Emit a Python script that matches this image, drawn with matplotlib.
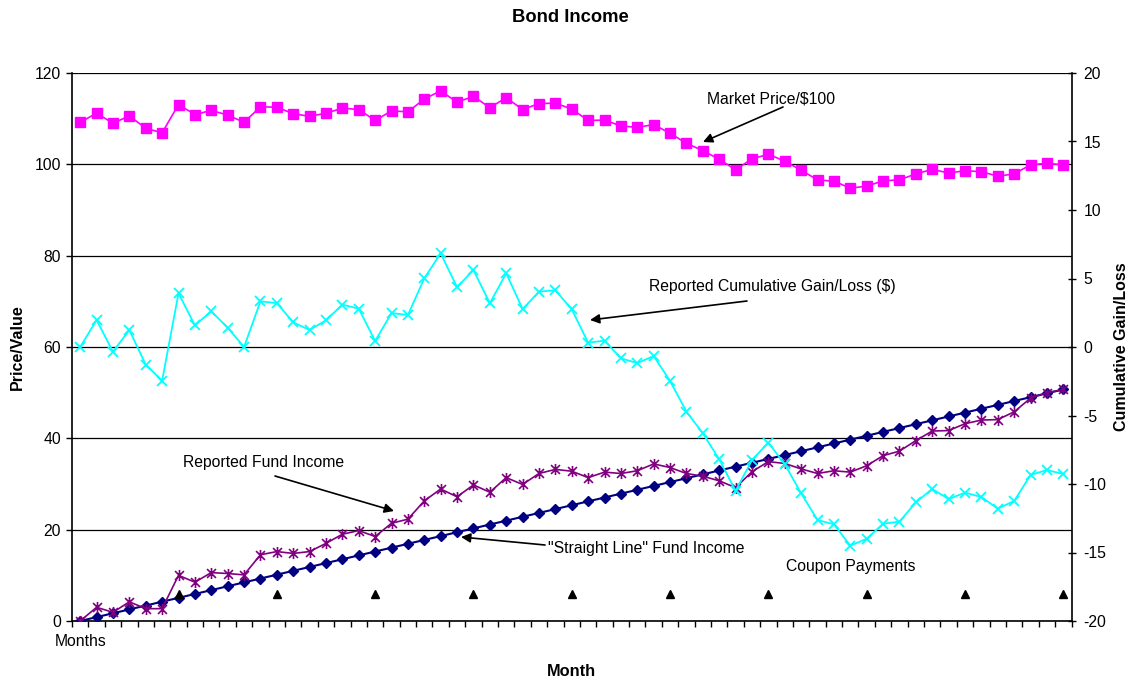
import matplotlib
matplotlib.use("Agg")
import matplotlib.pyplot as plt
import numpy as np
from matplotlib.path import Path

plt.rcParams['font.family'] = ['Liberation Sans', 'DejaVu Sans']
plt.rcParams['axes.unicode_minus'] = False

# ---------------- data ----------------
market_price = [109.2, 111.2, 109.0, 110.6, 107.9, 106.9, 113.1, 110.9, 111.8, 110.8,
                109.2, 112.6, 112.5, 111.1, 110.5, 111.2, 112.3, 112.0, 109.6, 111.7,
                111.5, 114.3, 116.1, 113.6, 114.9, 112.4, 114.6, 112.0, 113.3, 113.4,
                112.1, 109.6, 109.7, 108.4, 108.1, 108.7, 106.8, 104.6, 103.0, 101.1,
                98.8, 101.2, 102.2, 100.7, 98.7, 96.6, 96.3, 94.8, 95.2, 96.4,
                96.6, 97.9, 98.9, 98.1, 98.6, 98.4, 97.4, 97.9, 99.9, 100.2, 99.9]

cumulative_gain = [0.0, 1.97, -0.34, 1.24, -1.29, -2.46, 3.92, 1.58, 2.6, 1.41,
                   0.0, 3.33, 3.21, 1.8, 1.24, 1.95, 3.09, 2.8, 0.44, 2.48,
                   2.33, 5.01, 6.84, 4.36, 5.62, 3.19, 5.38, 2.77, 4.04, 4.14,
                   2.75, 0.32, 0.46, -0.83, -1.17, -0.66, -2.48, -4.72, -6.3, -8.2,
                   -10.5, -8.25, -6.98, -8.56, -10.68, -12.63, -12.94, -14.5, -14.0, -12.9,
                   -12.75, -11.34, -10.36, -11.1, -10.63, -10.95, -11.8, -11.24, -9.34, -8.98, -9.27]

reported_income = [0.0, 3.0, 1.9, 4.2, 2.7, 2.7, 10.0, 8.5, 10.6, 10.4,
                   10.1, 14.5, 15.2, 14.8, 15.2, 17.0, 19.0, 19.8, 18.5, 21.4,
                   22.3, 26.3, 28.9, 27.2, 29.8, 28.2, 31.4, 29.9, 32.3, 33.2,
                   32.8, 31.4, 32.6, 32.3, 32.9, 34.4, 33.6, 32.3, 31.7, 30.7,
                   29.2, 32.7, 34.9, 34.5, 33.3, 32.3, 32.9, 32.6, 34.0, 36.2,
                   37.2, 39.5, 41.6, 41.7, 43.2, 44.0, 44.1, 45.8, 48.8, 50.0, 50.7]

straight_line_income = [0.0, 0.85, 1.69, 2.54, 3.38, 4.23, 5.07, 5.92, 6.76, 7.61,
                        8.45, 9.30, 10.14, 10.99, 11.83, 12.68, 13.52, 14.37, 15.21, 16.06,
                        16.90, 17.75, 18.59, 19.44, 20.28, 21.13, 21.97, 22.82, 23.66, 24.51,
                        25.35, 26.20, 27.04, 27.89, 28.73, 29.58, 30.42, 31.27, 32.11, 32.96,
                        33.80, 34.65, 35.49, 36.34, 37.18, 38.03, 38.87, 39.72, 40.56, 41.41,
                        42.25, 43.10, 43.94, 44.79, 45.63, 46.48, 47.32, 48.17, 49.01, 49.86, 50.70]

coupon_months = [6, 12, 18, 24, 30, 36, 42, 48, 54, 60]
coupon_marker_level = [6, 6, 6, 6, 6, 6, 6, 6, 6, 6]

x_labels = ["Months"] + [""] * 60
left_ticks = [0, 20, 40, 60, 80, 100, 120]
right_ticks = [-20, -15, -10, -5, 0, 5, 10, 15, 20]

# ---------------- figure ----------------
W, H = 1133, 682
fig = plt.figure(figsize=(W / 100, H / 100), dpi=100)
ax = fig.add_axes([72 / W, 1 - 621 / H, (1071.5 - 72) / W, (621 - 73) / H])
ax2 = ax.twinx()

x = np.arange(len(market_price))

star = Path([(-1, -1), (1, 1), (1, -1), (-1, 1), (0, -1.25), (0, 1.25)],
            [Path.MOVETO, Path.LINETO, Path.MOVETO, Path.LINETO, Path.MOVETO, Path.LINETO])

ax.set_axisbelow(True)
ax.yaxis.grid(True, color='black', linewidth=0.9)
ax.plot(x, market_price, color='#FF00FF', marker='s', markersize=6.5, linewidth=1.2, zorder=3)
ax.plot(x, straight_line_income, color='#000080', marker='D', markersize=5.2, linewidth=1.5, zorder=3)
ax.plot(x, reported_income, color='#800080', marker=star, markersize=8, markeredgewidth=1.2,
        linewidth=1.2, zorder=4)
ax.plot(coupon_months, coupon_marker_level, linestyle='none', marker='^', color='black',
        markersize=6, zorder=3)

ax2.plot(x, cumulative_gain, color='#00FFFF', marker='x', markersize=7, markeredgewidth=1.3,
         linewidth=1.3)

ax.set_xlim(-0.5, len(market_price) - 0.5)
ax.set_ylim(0, 120)
ax2.set_ylim(-20, 20)
ax.set_yticks(left_ticks)
ax2.set_yticks(right_ticks)

ax.set_xticks(x)
ax.set_xticklabels(x_labels)
ax.set_xticks(np.arange(-0.5, len(market_price), 1), minor=True)
ax.tick_params(axis='x', which='major', length=0, pad=9, labelsize=11.3)
ax.tick_params(axis='x', which='minor', length=4, direction='out', width=1)
ax.tick_params(axis='y', length=4, direction='out', labelsize=11.3, width=1, pad=4)
ax2.tick_params(axis='y', length=5.5, direction='inout', labelsize=11.3, width=1, pad=6)

for a in (ax, ax2):
    a.spines['top'].set_visible(False)
ax.spines['right'].set_visible(False)
ax2.spines['left'].set_visible(False)
ax2.spines['bottom'].set_visible(False)
ax.spines['left'].set_linewidth(1.2)
ax.spines['bottom'].set_linewidth(1.2)
ax2.spines['right'].set_linewidth(1.2)

fig.text(17 / W, 1 - 347 / H, "Price/Value", ha='center', va='center', rotation=90,
         fontsize=11.5, fontweight='bold')
fig.text(1121 / W, 1 - 347 / H, "Cumulative Gain/Loss", ha='center', va='center', rotation=90,
         fontsize=11.5, fontweight='bold')
fig.text(571 / W, 1 - 671 / H, "Month", ha='center', va='center', fontsize=11.8, fontweight='bold')
fig.text(570 / W, 1 - 17 / H, "Bond Income", ha='center', va='center', fontsize=13.2, fontweight='bold')

def fp(px, py):
    return (px, H - py)

arrow = dict(arrowstyle='-|>', color='black', lw=1.2, mutation_scale=14, shrinkA=0, shrinkB=0)
ax.annotate("", xy=fp(703, 142), xytext=fp(783, 107), xycoords='figure pixels',
            textcoords='figure pixels', arrowprops=arrow)
ax.annotate("", xy=fp(590, 320), xytext=fp(747, 301), xycoords='figure pixels',
            textcoords='figure pixels', arrowprops=arrow)
ax.annotate("", xy=fp(394, 511), xytext=fp(275, 476), xycoords='figure pixels',
            textcoords='figure pixels', arrowprops=arrow)
ax.annotate("", xy=fp(461, 537), xytext=fp(545, 545), xycoords='figure pixels',
            textcoords='figure pixels', arrowprops=arrow)

labels = [("Market Price/$100", 771, 99),
          ("Reported Cumulative Gain/Loss ($)", 772, 286),
          ("Reported Fund Income", 264, 462),
          ('"Straight Line" Fund Income', 646, 548),
          ("Coupon Payments", 851, 566)]
for txt, px, py in labels:
    fig.text(px / W, 1 - py / H, txt, ha='center', va='center', fontsize=11.3)

fig.savefig("out.png", dpi=100)
